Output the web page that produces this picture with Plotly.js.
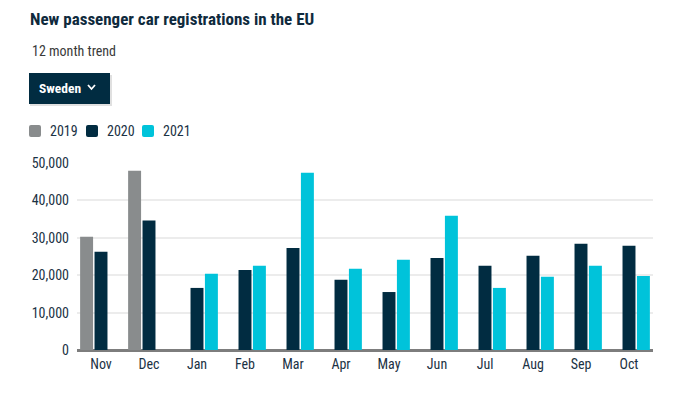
<!DOCTYPE html>
<html>
<head>
<meta charset="utf-8">
<script src="https://cdn.plot.ly/plotly-3.0.1.min.js"></script>
<style>
html,body{margin:0;padding:0;background:#fff;}
#chart{width:697px;height:393px;}
</style>
</head>
<body>
<div id="chart"></div>
<script>
// ---- data ----
const months = ['Nov','Dec','Jan','Feb','Mar','Apr','May','Jun','Jul','Aug','Sep','Oct'];
const years = ['2019','2020','2021'];
const v2019 = [30300, 47900, null, null, null, null, null, null, null, null, null, null];
const v2020 = [26300, 34600, 16600, 21400, 27300, 18800, 15500, 24600, 22500, 25200, 28400, 27900];
const v2021 = [null, null, 20400, 22500, 47400, 21700, 24100, 35900, 16600, 19600, 22500, 19800];
const yTicks = [0, 10000, 20000, 30000, 40000, 50000];

// ---- styling ----
const colors = ['#898c8d', '#012c41', '#00c3da'];
const FONT = 'Roboto Condensed, Liberation Sans Narrow, Roboto, sans-serif';
const TXT = '#1b3244';
const W = 697, H = 393;
const M = {l: 77, r: 44, t: 163, b: 43};
const PW = W - M.l - M.r, PH = H - M.t - M.b;
const px = x => (x - M.l) / PW;      // pixel x -> paper x
const py = y => (H - M.b - y) / PH;  // pixel y -> paper y

const series = [v2019, v2020, v2021];
const traces = series.map((vals, i) => ({
  type: 'bar',
  name: years[i],
  x: months,
  y: vals,
  marker: {color: colors[i], line: {width: 0}},
  showlegend: false,
  hoverinfo: 'x+y+name'
}));

// rounded square path (pixel box -> paper path)
function roundRect(x0, y0, x1, y1, r) {
  return `M${px(x0 + r)},${py(y0)} L${px(x1 - r)},${py(y0)} Q${px(x1)},${py(y0)} ${px(x1)},${py(y0 + r)} ` +
         `L${px(x1)},${py(y1 - r)} Q${px(x1)},${py(y1)} ${px(x1 - r)},${py(y1)} ` +
         `L${px(x0 + r)},${py(y1)} Q${px(x0)},${py(y1)} ${px(x0)},${py(y1 - r)} ` +
         `L${px(x0)},${py(y0 + r)} Q${px(x0)},${py(y0)} ${px(x0 + r)},${py(y0)} Z`;
}

// legend built from the series names and colours
const legendX = [29, 86, 142];
const legendShapes = years.map((yr, i) => ({
  type: 'path', xref: 'paper', yref: 'paper',
  path: roundRect(legendX[i], 125, legendX[i] + 12, 137, 2),
  fillcolor: colors[i], line: {width: 0}
}));
const legendTexts = years.map((yr, i) => ({
  text: yr, xref: 'paper', yref: 'paper', x: px(legendX[i] + 19), y: py(131),
  xanchor: 'left', yanchor: 'middle', showarrow: false,
  font: {family: FONT, size: 14, color: TXT}
}));

const chevron = `M${px(88)},${py(85)} L${px(91.5)},${py(89)} L${px(95)},${py(85)}`;

const layout = {
  width: W, height: H,
  margin: M,
  paper_bgcolor: '#ffffff',
  plot_bgcolor: '#ffffff',
  font: {family: FONT, color: TXT, size: 13},
  title: {
    text: '<b>New passenger car registrations in the EU</b>',
    font: {family: FONT, size: 17, color: '#0f2a3d'},
    xref: 'container', yref: 'container',
    x: 30 / W, xanchor: 'left',
    y: 1 - 19 / H, yanchor: 'middle'
  },
  barmode: 'group',
  bargap: 0.1,
  bargroupgap: 0.1,
  showlegend: false,
  xaxis: {
    type: 'category',
    showgrid: false,
    showline: false,
    zeroline: false,
    ticks: '',
    ticklabelstandoff: 4,
    tickfont: {family: FONT, size: 14, color: TXT},
    fixedrange: true
  },
  yaxis: {
    range: [0, 50000],
    tickvals: yTicks,
    tickformat: ',d',
    showgrid: true, gridcolor: '#ececec', gridwidth: 2,
    zeroline: true, zerolinecolor: '#7d7d7d', zerolinewidth: 2.5,
    showline: false,
    ticks: '',
    ticklabelstandoff: 7,
    tickfont: {family: FONT, size: 14, color: TXT},
    fixedrange: true
  },
  shapes: [
    {type: 'rect', xref: 'paper', yref: 'paper', x0: px(30), x1: px(112), y0: py(106), y1: py(75),
     fillcolor: 'rgba(0,0,0,0.12)', line: {width: 0}},
    {type: 'rect', xref: 'paper', yref: 'paper', x0: px(29), x1: px(110), y0: py(104), y1: py(73),
     fillcolor: '#012c41', line: {width: 0}},
    {type: 'path', xref: 'paper', yref: 'paper', path: chevron,
     line: {color: '#ffffff', width: 1.8}}
  ].concat(legendShapes),
  annotations: [
    {text: '12 month trend', xref: 'paper', yref: 'paper', x: px(30), y: py(51),
     xanchor: 'left', yanchor: 'middle', showarrow: false,
     font: {family: FONT, size: 14, color: '#3a3a3a'}},
    {text: '<b>Sweden</b>', xref: 'paper', yref: 'paper', x: px(37), y: py(88),
     xanchor: 'left', yanchor: 'middle', showarrow: false,
     font: {family: FONT, size: 13.5, color: '#ffffff'}}
  ].concat(legendTexts)
};

Plotly.newPlot('chart', traces, layout, {displayModeBar: false});
</script>
</body>
</html>
